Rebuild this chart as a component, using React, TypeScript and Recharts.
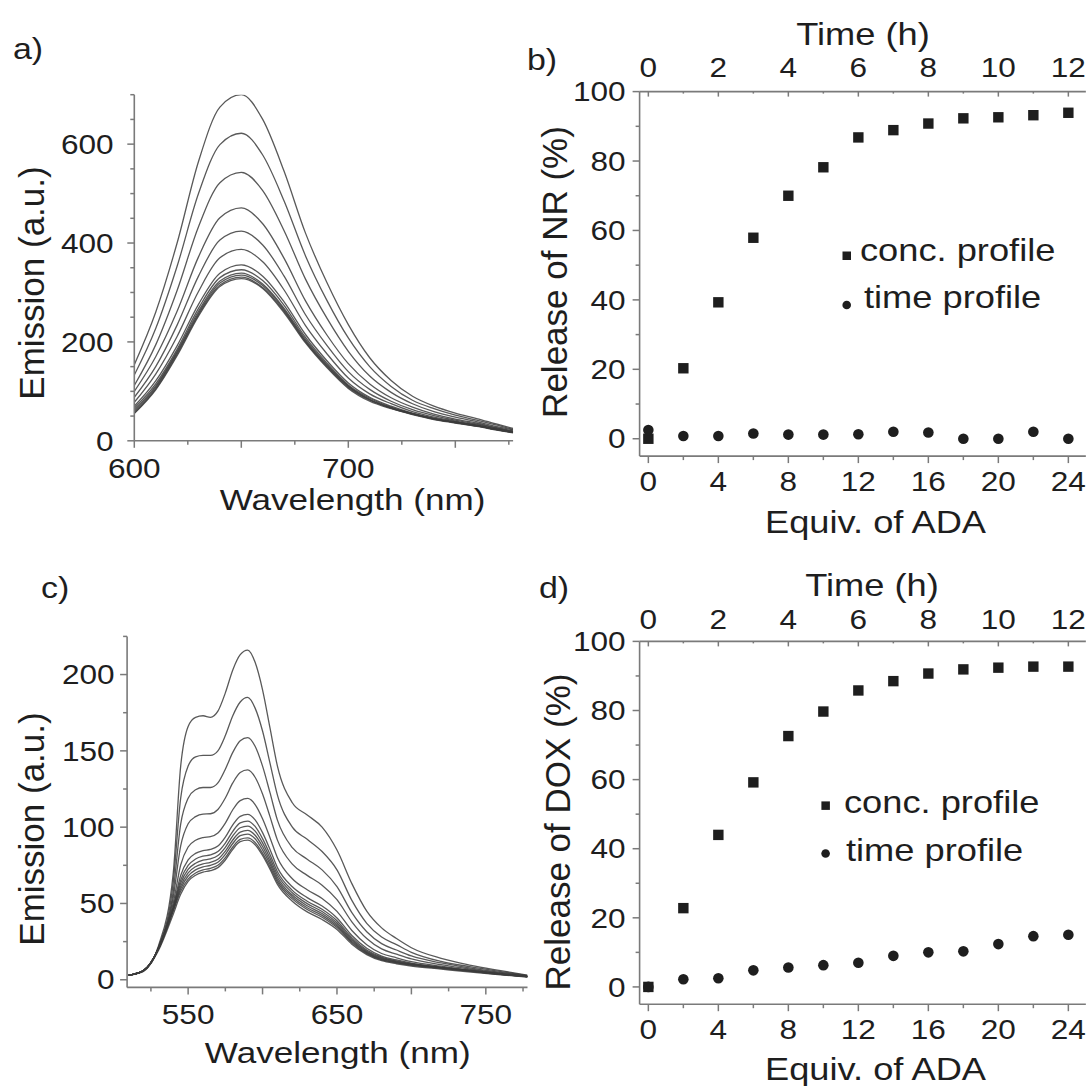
import React from 'react'
import { LineChart, Line, XAxis, YAxis, ScatterChart, Scatter } from 'recharts'

/* ------------------------------------------------------------------ */
/*  Style                                                              */
/* ------------------------------------------------------------------ */

const FONT = '"Liberation Sans", Arial, sans-serif'
const INK = '#1e1e1e'
const AXIS = '#7a7a7a'
const TRACE = '#3c3c3c'
const STRETCH = 1.17 // the figure is slightly wider than tall

/* ------------------------------------------------------------------ */
/*  Data – a) emission spectra (NR)                                    */
/* ------------------------------------------------------------------ */

const WL_A = [600, 610, 620, 630, 640, 650, 660, 670, 680, 690, 700, 710, 720, 730, 740, 750, 760, 770, 777]

const SPEC_A = [
  [154, 260, 400, 565, 675, 700, 650, 545, 420, 320, 235, 168, 122, 90, 70, 56, 45, 33, 25],
  [133, 227, 353, 500, 599, 622, 578, 485, 374, 284, 208, 150, 110, 82, 65, 52, 42, 31, 23],
  [112, 194, 304, 433, 522, 543, 506, 425, 327, 248, 181, 131, 98, 75, 59, 48, 39, 28, 22],
  [100, 170, 262, 372, 451, 471, 439, 369, 283, 214, 156, 115, 87, 68, 54, 44, 36, 26, 20],
  [88, 150, 234, 333, 406, 424, 396, 333, 255, 193, 140, 104, 80, 63, 51, 42, 34, 25, 19],
  [78, 135, 211, 302, 370, 387, 362, 305, 233, 176, 127, 95, 75, 59, 48, 40, 32, 24, 18],
  [70, 121, 192, 276, 339, 356, 333, 281, 215, 162, 117, 88, 70, 56, 46, 38, 31, 23, 18],
  [66, 115, 185, 268, 330, 346, 324, 274, 209, 157, 113, 86, 68, 55, 45, 38, 31, 22, 17],
  [62, 111, 181, 262, 323, 339, 317, 268, 205, 154, 111, 84, 67, 55, 45, 37, 30, 22, 17],
  [59, 108, 178, 258, 319, 335, 314, 265, 202, 152, 110, 83, 66, 54, 44, 37, 30, 22, 17],
  [56, 105, 175, 255, 315, 331, 310, 262, 200, 150, 108, 82, 66, 54, 44, 37, 30, 22, 17],
  [55, 103, 172, 252, 312, 328, 308, 259, 198, 148, 106, 80, 65, 53, 43, 36, 29, 21, 16],
]

/* ------------------------------------------------------------------ */
/*  Data – c) emission spectra (DOX)                                   */
/* ------------------------------------------------------------------ */

const WL_C = [510, 520, 530, 540, 545, 550, 555, 560, 565, 570, 575, 580, 585, 590, 595, 600, 605, 610, 620, 630, 640, 650, 660, 670, 680, 690, 700, 720, 740, 760, 778]

const SPEC_C = [
  [3, 6, 22, 70, 140, 166, 172, 173, 172, 176, 188, 203, 213, 216, 208, 190, 165, 140, 116, 108, 100, 85, 63, 45, 34, 27, 21, 14, 9.5, 6, 3],
  [3, 6, 21, 64, 119, 140, 146, 147, 147, 150, 160, 173, 182, 185, 178, 163, 142, 121, 100, 92, 84, 72, 52, 37, 28, 23, 18, 12, 8.5, 5.4, 2.7],
  [3, 6, 21, 58, 102, 119, 124.5, 126, 126, 129, 138, 149, 156.6, 158.7, 153, 140, 122.6, 104.6, 86.6, 79, 72, 61, 44, 31.5, 23.7, 19.5, 15.6, 11, 7.6, 4.8, 2.5],
  [3, 6, 20.7, 54, 87.7, 102.2, 106.9, 108.6, 108.8, 111.6, 119.1, 129, 135.8, 137.5, 132.7, 121.7, 106.9, 91.5, 75.8, 68.4, 62, 52.5, 38, 27, 20.2, 16.8, 13.7, 9.9, 6.9, 4.4, 2.4],
  [3, 6, 20.4, 50.3, 75.2, 87, 91.4, 93.2, 93.8, 96.2, 102.7, 111.4, 117.4, 118.8, 114.8, 105.5, 93.1, 80, 66.2, 59, 53.3, 44.8, 32.3, 23, 17.2, 14.4, 11.9, 8.9, 6.3, 4, 2.2],
  [3, 6, 20.3, 48.1, 68.3, 78.5, 82.8, 84.6, 85.4, 87.6, 93.5, 101.5, 107.1, 108.4, 104.8, 96.4, 85.4, 73.5, 60.9, 53.8, 48.3, 40.5, 29, 20.6, 15.5, 13, 10.9, 8.3, 6, 3.8, 2.1],
  [3, 6, 20.2, 47.2, 65.3, 74.9, 79.1, 81, 81.8, 84, 89.6, 97.3, 102.8, 104, 100.5, 92.5, 82.1, 70.8, 58.6, 51.5, 46.2, 38.7, 27.6, 19.5, 14.8, 12.4, 10.5, 8.1, 5.9, 3.7, 2.1],
  [3, 6, 20.1, 46.6, 63.2, 72.3, 76.4, 78.4, 79.2, 81.4, 86.8, 94.3, 99.6, 100.7, 97.4, 89.7, 79.7, 68.8, 57, 49.9, 44.7, 37.3, 26.6, 18.8, 14.3, 12, 10.2, 7.9, 5.8, 3.7, 2.1],
  [3, 6, 20.1, 46, 61.3, 70, 74.1, 76, 77, 79, 84.3, 91.6, 96.8, 97.9, 94.7, 87.3, 77.6, 67, 55.5, 48.5, 43.4, 36.2, 25.8, 18.1, 13.8, 11.6, 10, 7.8, 5.7, 3.6, 2],
  [3, 6, 20, 45.5, 59.6, 68, 72, 74, 75, 77, 82.2, 89.3, 94.4, 95.5, 92.4, 85.1, 75.8, 65.5, 54.3, 47.2, 42.2, 35.2, 25, 17.6, 13.4, 11.3, 9.7, 7.6, 5.6, 3.5, 2],
  [3, 6, 20, 45, 58, 66, 70, 72, 73, 75, 80, 87, 92, 93, 90, 83, 74, 64, 53, 46, 41, 34.2, 24.3, 17.1, 13, 11, 9.5, 7.5, 5.5, 3.5, 2],
  [3, 5.5, 19, 43, 56, 64.5, 68.5, 70.5, 71.5, 73.5, 78.5, 85.5, 90.5, 91.5, 88.5, 81.5, 72.5, 62.5, 51.5, 44.5, 39.5, 33, 23.3, 16.5, 12.5, 10.5, 9, 7, 5, 3.2, 1.8],
]

/* ------------------------------------------------------------------ */
/*  Data – b) / d) release profiles                                    */
/* ------------------------------------------------------------------ */

const EQUIV = [0, 2, 4, 6, 8, 10, 12, 14, 16, 18, 20, 22, 24]
const HOURS = [0, 1, 2, 3, 4, 5, 6, 7, 8, 9, 10, 11, 12]

const NR_CONC = [0, 20.3, 39.3, 57.9, 70, 78.2, 86.8, 88.9, 90.8, 92.3, 92.6, 93.2, 93.9]
const NR_TIME = [2.5, 0.8, 0.8, 1.5, 1.2, 1.2, 1.3, 2.0, 1.8, 0, 0, 2.0, 0]

const DOX_CONC = [0, 22.8, 44, 59.2, 72.6, 79.7, 85.8, 88.5, 90.7, 91.9, 92.4, 92.7, 92.7]
const DOX_TIME = [0, 2.2, 2.5, 4.8, 5.6, 6.3, 7.0, 9.0, 10.0, 10.3, 12.4, 14.7, 15.1]

/* ------------------------------------------------------------------ */
/*  Ticks                                                              */
/* ------------------------------------------------------------------ */

const X_TICKS_A = [600, 625, 650, 675, 700, 725, 750, 775]
const Y_TICKS_A = [0, 50, 100, 150, 200, 250, 300, 350, 400, 450, 500, 550, 600, 650, 700]
const X_TICKS_C = [525, 550, 575, 600, 625, 650, 675, 700, 725, 750, 775]
const Y_TICKS_C = [0, 25, 50, 75, 100, 125, 150, 175, 200, 225]
const X_TICKS_EQ = [0, 2, 4, 6, 8, 10, 12, 14, 16, 18, 20, 22, 24]
const X_TICKS_H = [0, 1, 2, 3, 4, 5, 6, 7, 8, 9, 10, 11, 12]
const Y_TICKS_R = [0, 10, 20, 30, 40, 50, 60, 70, 80, 90, 100]

/* ------------------------------------------------------------------ */
/*  Helpers                                                            */
/* ------------------------------------------------------------------ */

const toRows = (wl: number[], spec: number[][]) =>
  wl.map((w, i) => {
    const row: Record<string, number> = { w }
    spec.forEach((s, k) => {
      row['s' + k] = s[i]
    })
    return row
  })

const toPoints = (xs: number[], ys: number[]) => xs.map((x, i) => ({ x, y: ys[i] }))

const rowsA = toRows(WL_A, SPEC_A)
const rowsC = toRows(WL_C, SPEC_C)

interface TickOpts {
  side: 'left' | 'bottom' | 'top'
  labels: number[]
  majors: number[]
  gap: number
}

function makeTick(o: TickOpts) {
  return function Tick(props: any) {
    const { x, y, payload } = props
    const v = payload.value as number
    const len = o.majors.includes(v) ? 7 : 4
    const label = o.labels.includes(v)
    const textProps = { fontSize: 27, fontFamily: FONT, fill: INK }
    if (o.side === 'left') {
      return (
        <g>
          <line x1={x} x2={x - len} y1={y} y2={y} stroke={AXIS} strokeWidth={1.5} />
          {label && (
            <text transform={`translate(${x - o.gap},${y + 9.7}) scale(${STRETCH},1)`} textAnchor="end" {...textProps}>
              {v}
            </text>
          )}
        </g>
      )
    }
    if (o.side === 'bottom') {
      return (
        <g>
          <line x1={x} x2={x} y1={y} y2={y + len} stroke={AXIS} strokeWidth={1.5} />
          {label && (
            <text transform={`translate(${x},${y + o.gap}) scale(${STRETCH},1)`} textAnchor="middle" {...textProps}>
              {v}
            </text>
          )}
        </g>
      )
    }
    // top axis, ticks point into the frame
    return (
      <g>
        <line x1={x} x2={x} y1={y} y2={y + len - 2} stroke={AXIS} strokeWidth={1.5} />
        {label && (
          <text transform={`translate(${x},${y - o.gap}) scale(${STRETCH},1)`} textAnchor="middle" {...textProps}>
            {v}
          </text>
        )}
      </g>
    )
  }
}

const squareShape = (p: any) => <rect x={p.cx - 5.2} y={p.cy - 5.2} width={10.4} height={10.4} fill={INK} />
const dotShape = (p: any) => <circle cx={p.cx} cy={p.cy} r={5.3} fill={INK} />

interface TxtProps {
  x: number
  y: number
  size: number
  anchor?: 'start' | 'middle' | 'end'
  rotate?: boolean
  children: React.ReactNode
}

function Txt({ x, y, size, anchor = 'start', rotate = false, children }: TxtProps) {
  const transform = rotate ? `translate(${x},${y}) rotate(-90)` : `translate(${x},${y}) scale(${STRETCH},1)`
  return (
    <text
      transform={transform}
      fontSize={size}
      fontFamily={FONT}
      fill={INK}
      textAnchor={anchor}
      dominantBaseline={rotate ? 'central' : undefined}
    >
      {children}
    </text>
  )
}

const axisLine = { stroke: AXIS, strokeWidth: 1.6 }

/* ------------------------------------------------------------------ */
/*  Panels                                                             */
/* ------------------------------------------------------------------ */

function SpectraA() {
  return (
    <LineChart width={540} height={540} data={rowsA} margin={{ top: 94.7, right: 26.9, bottom: 39.2, left: 74.3 }}>
      <XAxis
        type="number"
        dataKey="w"
        domain={[600, 777]}
        allowDataOverflow
        ticks={X_TICKS_A}
        interval={0}
        height={60}
        tickSize={0}
        tickMargin={0}
        tickLine={false}
        axisLine={axisLine}
        tick={makeTick({ side: 'bottom', labels: [600, 700], majors: [600, 650, 700, 750], gap: 37 })}
      />
      <YAxis
        type="number"
        domain={[0, 700]}
        allowDataOverflow
        ticks={Y_TICKS_A}
        interval={0}
        width={60}
        tickSize={0}
        tickMargin={0}
        tickLine={false}
        axisLine={axisLine}
        tick={makeTick({ side: 'left', labels: [0, 200, 400, 600], majors: [0, 200, 400, 600], gap: 20.7 })}
      />
      {SPEC_A.map((_, k) => (
        <Line
          key={k}
          type="monotone"
          dataKey={'s' + k}
          stroke={TRACE}
          strokeWidth={1.3}
          strokeOpacity={0.85}
          dot={false}
          isAnimationActive={false}
        />
      ))}
    </LineChart>
  )
}

function SpectraC() {
  return (
    <LineChart width={540} height={546} data={rowsC} margin={{ top: 96.4, right: 12.5, bottom: 38.6, left: 67.1 }}>
      <XAxis
        type="number"
        dataKey="w"
        domain={[509, 778]}
        allowDataOverflow
        ticks={X_TICKS_C}
        interval={0}
        height={60}
        tickSize={0}
        tickMargin={0}
        tickLine={false}
        axisLine={axisLine}
        tick={makeTick({ side: 'bottom', labels: [550, 650, 750], majors: [550, 600, 650, 700, 750], gap: 37 })}
      />
      <YAxis
        type="number"
        domain={[-5, 225]}
        allowDataOverflow
        ticks={Y_TICKS_C}
        interval={0}
        width={60}
        tickSize={0}
        tickMargin={0}
        tickLine={false}
        axisLine={axisLine}
        tick={makeTick({ side: 'left', labels: [0, 50, 100, 150, 200], majors: [0, 50, 100, 150, 200], gap: 12.5 })}
      />
      {SPEC_C.map((_, k) => (
        <Line
          key={k}
          type="monotone"
          dataKey={'s' + k}
          stroke={TRACE}
          strokeWidth={1.3}
          strokeOpacity={0.85}
          dot={false}
          isAnimationActive={false}
        />
      ))}
    </LineChart>
  )
}

interface ReleaseProps {
  height: number
  top: number
  bottom: number
  topGap: number
  conc: number[]
  time: number[]
}

function Release({ height, top, bottom, topGap, conc, time }: ReleaseProps) {
  return (
    <ScatterChart width={548} height={height} margin={{ top, right: 2.15, bottom, left: 39.6 }}>
      <XAxis
        xAxisId="eq"
        type="number"
        dataKey="x"
        domain={[-0.5, 25]}
        allowDataOverflow
        ticks={X_TICKS_EQ}
        interval={0}
        height={60}
        tickSize={0}
        tickMargin={0}
        tickLine={false}
        axisLine={axisLine}
        tick={makeTick({ side: 'bottom', labels: [0, 4, 8, 12, 16, 20, 24], majors: [0, 4, 8, 12, 16, 20, 24], gap: 35 })}
      />
      <XAxis
        xAxisId="h"
        orientation="top"
        type="number"
        dataKey="x"
        domain={[-0.25, 12.5]}
        allowDataOverflow
        ticks={X_TICKS_H}
        interval={0}
        height={40}
        tickSize={0}
        tickMargin={0}
        tickLine={false}
        axisLine={axisLine}
        tick={makeTick({ side: 'top', labels: [0, 2, 4, 6, 8, 10, 12], majors: [0, 2, 4, 6, 8, 10, 12], gap: topGap })}
      />
      <YAxis
        type="number"
        dataKey="y"
        domain={[-5, 100]}
        allowDataOverflow
        ticks={Y_TICKS_R}
        interval={0}
        width={60}
        tickSize={0}
        tickMargin={0}
        tickLine={false}
        axisLine={axisLine}
        tick={makeTick({ side: 'left', labels: [0, 20, 40, 60, 80, 100], majors: [0, 20, 40, 60, 80, 100], gap: 14 })}
      />
      <Scatter xAxisId="eq" data={toPoints(EQUIV, conc)} shape={squareShape} isAnimationActive={false} />
      <Scatter xAxisId="h" data={toPoints(HOURS, time)} shape={dotShape} isAnimationActive={false} />
    </ScatterChart>
  )
}

/* ------------------------------------------------------------------ */
/*  Figure                                                             */
/* ------------------------------------------------------------------ */

export default function App() {
  return (
    <div style={{ position: 'absolute', left: 0, top: 0, width: 1088, height: 1086, background: '#fff', overflow: 'hidden' }}>
      <div style={{ position: 'absolute', left: 0, top: 0 }}>
        <SpectraA />
      </div>
      <div style={{ position: 'absolute', left: 540, top: 0 }}>
        <Release height={540} top={51.6} bottom={23.9} topGap={14.6} conc={NR_CONC} time={NR_TIME} />
      </div>
      <div style={{ position: 'absolute', left: 0, top: 540 }}>
        <SpectraC />
      </div>
      <div style={{ position: 'absolute', left: 540, top: 540 }}>
        <Release height={546} top={61.4} bottom={21.8} topGap={12.4} conc={DOX_CONC} time={DOX_TIME} />
      </div>

      <svg width={1088} height={1086} style={{ position: 'absolute', left: 0, top: 0, pointerEvents: 'none' }}>
        {/* panel letters */}
        <Txt x={13} y={59} size={29}>a)</Txt>
        <Txt x={527} y={70} size={29}>b)</Txt>
        <Txt x={41} y={598} size={29}>c)</Txt>
        <Txt x={539} y={598} size={29}>d)</Txt>

        {/* a) */}
        <Txt x={31} y={283} size={35} anchor="middle" rotate>Emission (a.u.)</Txt>
        <Txt x={352.5} y={510} size={30} anchor="middle">Wavelength (nm)</Txt>

        {/* c) */}
        <Txt x={31} y={829} size={35} anchor="middle" rotate>Emission (a.u.)</Txt>
        <Txt x={337.7} y={1063} size={30} anchor="middle">Wavelength (nm)</Txt>

        {/* b) */}
        <Txt x={554} y={272} size={35} anchor="middle" rotate>Release of NR (%)</Txt>
        <Txt x={863} y={45} size={31} anchor="middle">Time (h)</Txt>
        <Txt x={875.5} y={533} size={31} anchor="middle">Equiv. of ADA</Txt>
        <rect x={842.5} y={251.5} width={8.5} height={8.5} fill={INK} />
        <Txt x={860} y={261} size={31}>conc. profile</Txt>
        <circle cx={846.7} cy={305} r={4.3} fill={INK} />
        <Txt x={864} y={308} size={31}>time profile</Txt>

        {/* d) */}
        <Txt x={557.5} y={832} size={35} anchor="middle" rotate>Release of DOX (%)</Txt>
        <Txt x={872} y={596} size={31} anchor="middle">Time (h)</Txt>
        <Txt x={875.5} y={1080} size={31} anchor="middle">Equiv. of ADA</Txt>
        <rect x={821.4} y={801.4} width={8.5} height={8.5} fill={INK} />
        <Txt x={844} y={813} size={31}>conc. profile</Txt>
        <circle cx={825.6} cy={853.5} r={4.3} fill={INK} />
        <Txt x={846} y={861} size={31}>time profile</Txt>
      </svg>
    </div>
  )
}
